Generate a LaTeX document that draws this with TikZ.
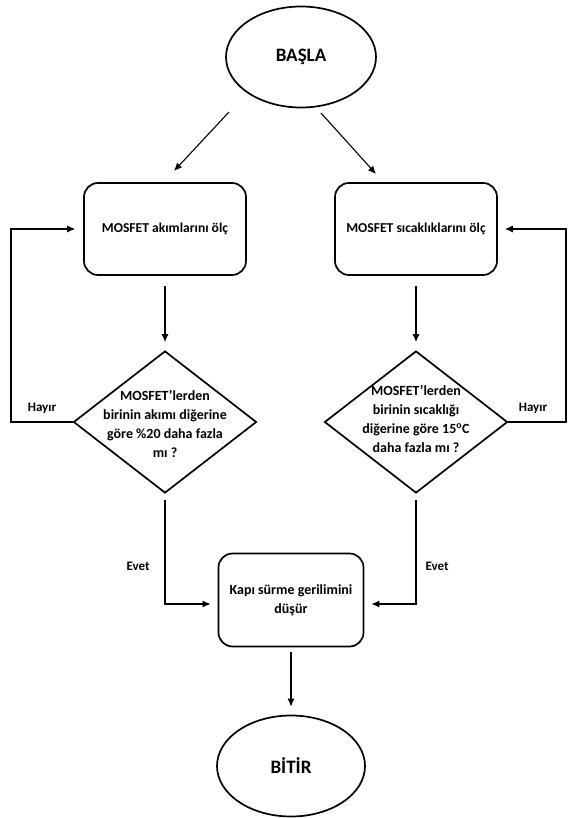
\documentclass[tikz,border=0pt]{standalone}
\usepackage{fontspec}
\setmainfont{Carlito}
\usetikzlibrary{arrows.meta, positioning, shapes.geometric}

\begin{document}
\begin{tikzpicture}[
x=1pt, y=-1pt,
font=\fontsize{13}{18}\selectfont\bfseries,
term/.style={draw, ellipse, line width=1.7pt,
minimum width=150pt,
minimum height=101pt,
font=\fontsize{19}{22}\selectfont\bfseries},
box/.style={draw, rectangle, rounded corners=14pt, line width=1.7pt,
minimum width=162pt,
minimum height=92pt,
align=center, font=\fontsize{13.6}{19}\selectfont\bfseries},
decision/.style={draw, diamond, line width=1.7pt,
minimum width=183pt,
minimum height=142pt,
inner sep=0pt},
qtext/.style={align=center, inner sep=0pt, font=\fontsize{14}{19}\selectfont\bfseries},
arrow/.style={-{Latex[length=8pt, width=7pt]}, line width=1.1pt}
]
\useasboundingbox (0,0) rectangle (567,818);

\node[term] (start) at (301,57) {BAŞLA};
\node[box] (meas1) at (165,229) {MOSFET akımlarını ölç};
\node[box] (meas2) at (416,229) {MOSFET sıcaklıklarını ölç};

\node[decision] (q1) at (165,422) {};
\node[qtext] (q1txt) at (165,424) {MOSFET’lerden\\birinin akımı diğerine\\göre \%20 daha fazla\\mı ?};
\node[decision] (q2) at (416,422) {};
\node[qtext] (q2txt) at (416,419) {MOSFET’lerden\\birinin sıcaklığı\\diğerine göre 15\textsuperscript{o}C\\daha fazla mı ?};

\node[box, minimum width=145pt, minimum height=93pt, font=\fontsize{14}{19}\selectfont\bfseries] (act) at (291,600) {Kapı sürme gerilimini\\düşür};
\node[term, minimum width=148pt] (stop) at (291,766) {BİTİR};

% labels
\node (no1) at (42,408) {Hayır};
\node (no2) at (533,408) {Hayır};
\node (yes1) at (138,566) {Evet};
\node (yes2) at (437,566) {Evet};

% free ends
\coordinate (a1) at (229,112);
\coordinate (a1e) at (174,171);
\coordinate (a2) at (321,113);
\coordinate (a2e) at (376,174);
\coordinate (loopL) at (11,300);
\coordinate (loopR) at (566,300);

\draw[arrow] (a1) -- (a1e);
\draw[arrow] (a2) -- (a2e);

\draw[arrow, shorten <=10pt, shorten >=8pt] (meas1) -- (q1);
\draw[arrow, shorten <=10pt, shorten >=8pt] (meas2) -- (q2);

\draw[arrow, shorten >=8pt] (q1.west) -| (loopL) |- (meas1.west);
\draw[arrow, shorten >=7pt] (q2.east) -| (loopR) |- (meas2.east);

\draw[arrow, shorten <=6pt, shorten >=7pt] (q1.south) |- ([yshift=-4pt]act.west);
\draw[arrow, shorten <=6pt, shorten >=7pt] (q2.south) |- ([yshift=-4pt]act.east);

\draw[arrow, shorten <=5pt, shorten >=8pt] (act) -- (stop);

\end{tikzpicture}
\end{document}
